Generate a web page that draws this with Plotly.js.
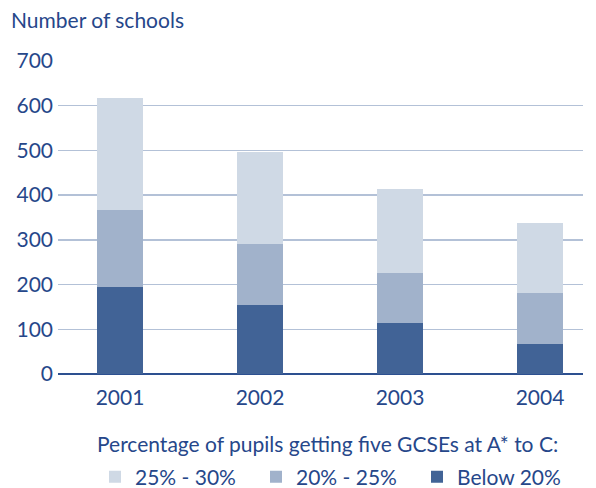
<!DOCTYPE html>
<html>
<head>
<meta charset="utf-8">
<script src="https://cdn.plot.ly/plotly-3.0.1.min.js"></script>
<style>html,body{margin:0;padding:0;background:#fff;}#chart{width:596px;height:488px;}</style>
</head>
<body>
<div id="chart"></div>
<script>
const years = ['2001', '2002', '2003', '2004'];
const below20 = [194, 155, 115, 67];
const from20to25 = [173, 135, 112, 115];
const from25to30 = [250, 207, 186, 156];
const seriesNames = ['Below 20%', '20% - 25%', '25% - 30%'];
const yTicks = [0, 100, 200, 300, 400, 500, 600, 700];
const legendTitle = 'Percentage of pupils getting five GCSEs at A* to C:';

const textColor = '#26478a';
const font = {family: 'Lato, "Open Sans", sans-serif', size: 21, color: textColor};

const mk = (name, y, color) => ({
  type: 'bar', name: name, x: years, y: y,
  marker: {color: color, line: {width: 0}},
  width: 0.33, hoverinfo: 'none'
});

const data = [
  mk(seriesNames[0], below20, '#416396'),
  mk(seriesNames[1], from20to25, '#a1b2cb'),
  mk(seriesNames[2], from25to30, '#cfd9e5')
];

const layout = {
  width: 596, height: 488,
  margin: {l: 58, r: 13, t: 61, b: 114},
  paper_bgcolor: '#fff', plot_bgcolor: '#fff',
  barmode: 'stack',
  font: font,
  title: {text: 'Number of schools', x: 11/596, xanchor: 'left', xref: 'container',
          y: 1 - 21/488, yanchor: 'middle', yref: 'container', font: font},
  xaxis: {type: 'category', range: [-0.443, 3.307], showgrid: false,
          showline: false, zeroline: false, ticks: '', ticklabelstandoff: 9,
          tickfont: font, fixedrange: true},
  yaxis: {range: [0, 700], tickvals: yTicks, showgrid: true, gridcolor: '#b3c1d7',
          gridwidth: 1.5, zeroline: true, zerolinecolor: '#2d5090', zerolinewidth: 2,
          showline: false, ticks: '', ticklabelstandoff: 4, tickfont: font, fixedrange: true},
  annotations: [{text: legendTitle, xref: 'paper', yref: 'paper',
                 x: (95 - 58) / 525, xanchor: 'left', y: (374 - 443) / 313, yanchor: 'middle',
                 showarrow: false, font: font}],
  showlegend: true,
  legend: {orientation: 'h', traceorder: 'reversed', xref: 'container', yref: 'container',
           x: 95/596, xanchor: 'left', y: 1 - 477/488, yanchor: 'middle',
           entrywidth: 116, entrywidthmode: 'pixels',
           font: font, bgcolor: 'rgba(0,0,0,0)', itemclick: false, itemdoubleclick: false}
};

Plotly.newPlot('chart', data, layout, {displayModeBar: false, staticPlot: true});
</script>
</body>
</html>
